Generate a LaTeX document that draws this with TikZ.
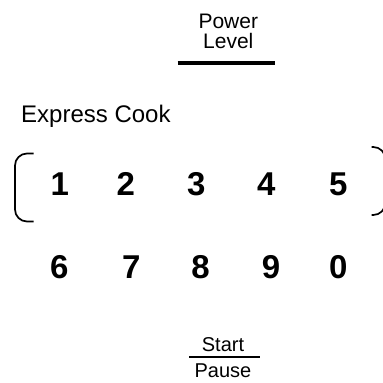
\documentclass[tikz,border=0pt]{standalone}
\usepackage{fontspec}
\setmainfont{Liberation Sans}
\begin{document}
\begin{tikzpicture}[x=1pt,y=-1pt,
  lbl/.style={inner sep=0pt,anchor=base,font=\fontsize{21}{21}\selectfont},
  digit/.style={inner sep=0pt,anchor=base,font=\fontsize{33}{33}\selectfont\bfseries},
  brk/.style={line width=1.7pt,rounded corners=12pt}]
\useasboundingbox (0,0) rectangle (383,383);
\clip (0,0) rectangle (383,383);
% Power Level
\node[lbl] (power) at (228.3,28) {Power};
\node[lbl] (level) at (228.3,48.5) {Level};
\draw[line width=4.5pt] (177.5,63) -- (275.3,63);
% Express Cook
\node[lbl,anchor=base west,font=\fontsize{24}{24}\selectfont] (express) at (21,122.3) {Express Cook};
% digits row 1
\node[digit] (d1) at (59.8,195.7) {1};
\node[digit] (d2) at (125.7,195.7) {2};
\node[digit] (d3) at (196.3,195.7) {3};
\node[digit] (d4) at (266.2,195.7) {4};
\node[digit] (d5) at (338.4,195.7) {5};
% digits row 2
\node[digit] (d6) at (59.2,278.3) {6};
\node[digit] (d7) at (131.3,278.3) {7};
\node[digit] (d8) at (200.5,278.3) {8};
\node[digit] (d9) at (271,278.3) {9};
\node[digit] (d0) at (338.4,278.3) {0};
% brackets
\draw[brk] (33.5,153.5) -- (15,153.5) -- (15,221.5) -- (33.5,221.5);
\draw[brk] (371.5,147) -- (385.3,147) -- (385.3,215) -- (371.5,215);
% Start / Pause
\node[lbl,font=\fontsize{20}{20}\selectfont] (start) at (223,351) {Start};
\node[lbl,font=\fontsize{20}{20}\selectfont] (pause) at (223,377) {Pause};
\draw[line width=2pt] (189.3,356.7) -- (260,356.7);
\end{tikzpicture}
\end{document}
